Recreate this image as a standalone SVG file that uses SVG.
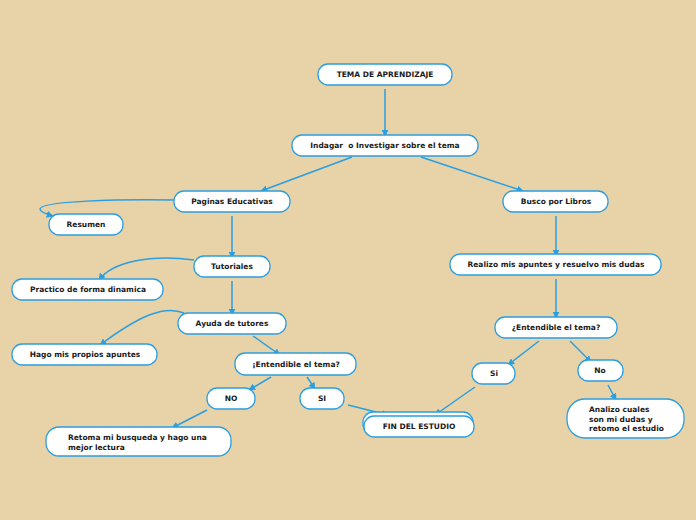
<svg xmlns="http://www.w3.org/2000/svg" width="696" height="520" viewBox="0 0 696 520">
<defs>
<marker id="ah" viewBox="0 0 10 10" refX="9" refY="5" markerWidth="7" markerHeight="7" orient="auto" markerUnits="userSpaceOnUse"><path d="M0,0 L10,5 L0,10 Z" fill="#2a9ee0"/></marker>
<style>
.n{fill:#fff;stroke:#2a9ee0;stroke-width:1.3}
.t{font-family:"DejaVu Sans",Verdana,sans-serif;font-weight:bold;font-size:7.5px;fill:#1a1a1a;text-anchor:middle;dominant-baseline:central;white-space:pre}
.tl{font-family:"DejaVu Sans",Verdana,sans-serif;font-weight:bold;font-size:7.5px;fill:#1a1a1a}
.c{fill:none;stroke:#2a9ee0;stroke-width:1.5;marker-end:url(#ah)}
</style>
</defs>
<rect width="696" height="520" fill="#e8d3a8"/>
<g id="connectors">
<path class="c" d="M385,89 L385,136"/>
<path class="c" d="M352,157 L261,191"/>
<path class="c" d="M421,157 L523,191"/>
<path class="c" d="M174,200 C120,199 40,201 40,209 C40,212 46,214 53,216"/>
<path class="c" d="M232,216 L232,258"/>
<path class="c" d="M194,260 C150,254 112,262 99,280"/>
<path class="c" d="M232,281 L232,315"/>
<path class="c" d="M184,313 C165,305 140,315 100,345"/>
<path class="c" d="M253,336 L280,355"/>
<path class="c" d="M271,377 L249,390"/>
<path class="c" d="M307,377 L315,389"/>
<path class="c" d="M348,405 L388,415"/>
<path class="c" d="M475,387 L435,415"/>
<path class="c" d="M207,410 L172,428"/>
<path class="c" d="M556,216 L556,256"/>
<path class="c" d="M556,279 L556,318"/>
<path class="c" d="M539,341 L508,365"/>
<path class="c" d="M570,341 L591,362"/>
<path class="c" d="M608,385 L616,400"/>
</g>
<g id="tema"><rect class="n" x="318" y="64" width="134" height="21" rx="10"/><text class="t" x="385" y="74.5">TEMA DE APRENDIZAJE</text></g>
<g id="indagar"><rect class="n" x="292" y="135" width="186" height="21" rx="10"/><text class="t" x="385" y="145.5" xml:space="preserve">Indagar  o Investigar sobre el tema</text></g>
<g id="paginas"><rect class="n" x="174" y="191" width="116" height="21" rx="10"/><text class="t" x="232" y="201.5">Paginas Educativas</text></g>
<g id="resumen"><rect class="n" x="49" y="214" width="74" height="21" rx="10"/><text class="t" x="86" y="224.5">Resumen</text></g>
<g id="busco"><rect class="n" x="503" y="191" width="105" height="21" rx="10"/><text class="t" x="556" y="201.5">Busco por Libros</text></g>
<g id="tutoriales"><rect class="n" x="194" y="256" width="76" height="21" rx="10"/><text class="t" x="232" y="266.5">Tutoriales</text></g>
<g id="practico"><rect class="n" x="12" y="279" width="151" height="21" rx="10"/><text class="t" x="88" y="289.5">Practico de forma dinamica</text></g>
<g id="realizo"><rect class="n" x="450" y="254" width="211" height="21" rx="10"/><text class="t" x="556" y="264.5">Realizo mis apuntes y resuelvo mis dudas</text></g>
<g id="ayuda"><rect class="n" x="178" y="313" width="108" height="21" rx="10"/><text class="t" x="232" y="323.5">Ayuda de tutores</text></g>
<g id="hago"><rect class="n" x="12" y="344" width="145" height="21" rx="10"/><text class="t" x="85" y="354.5">Hago mis propios apuntes</text></g>
<g id="entendible-r"><rect class="n" x="495" y="317" width="122" height="21" rx="10"/><text class="t" x="556" y="327.5">¿Entendible el tema?</text></g>
<g id="entendible-l"><rect class="n" x="235" y="353" width="121" height="22" rx="10"/><text class="t" x="296" y="364">¡Entendible el tema?</text></g>
<g id="no-l"><rect class="n" x="207" y="388" width="48" height="21" rx="10"/><text class="t" x="231" y="398.5">NO</text></g>
<g id="si-l"><rect class="n" x="300" y="388" width="44" height="21" rx="10"/><text class="t" x="322" y="398.5">SI</text></g>
<g id="si-r"><rect class="n" x="472" y="363" width="43" height="21" rx="10"/><text class="t" x="494" y="373.5">Si</text></g>
<g id="no-r"><rect class="n" x="578" y="360" width="45" height="21" rx="10"/><text class="t" x="600" y="370.5">No</text></g>
<g id="retoma"><rect class="n" x="46" y="427" width="185" height="29" rx="13"/><text class="tl" x="68" y="440">Retoma mi busqueda y hago una</text><text class="tl" x="68" y="450">mejor lectura</text></g>
<g id="fin"><rect class="n" x="363" y="412" width="110" height="22" rx="10"/><rect class="n" x="364" y="416" width="110" height="21" rx="10"/><text class="t" x="419" y="426.5">FIN DEL ESTUDIO</text></g>
<g id="analizo"><rect class="n" x="567" y="399" width="117" height="39" rx="18"/><text class="tl" x="589" y="412">Analizo cuales</text><text class="tl" x="589" y="422">son mi dudas y</text><text class="tl" x="589" y="431">retomo el estudio</text></g>
</svg>
